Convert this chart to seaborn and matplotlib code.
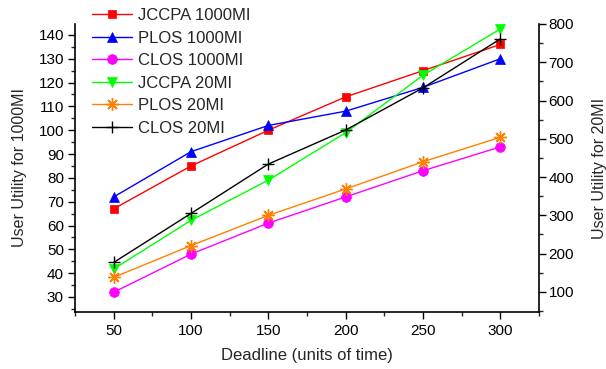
import numpy as np
import pandas as pd
import seaborn as sns
import matplotlib
matplotlib.use("Agg")
import matplotlib.pyplot as plt
from matplotlib.ticker import MultipleLocator
from matplotlib.lines import Line2D

deadline = [50, 100, 150, 200, 250, 300]
jccpa_1000 = [67, 85, 100, 114, 125, 136]
plos_1000 = [72, 91, 102, 108, 118, 130]
clos_1000 = [32, 48, 61, 72, 83, 93]
jccpa_20 = [160, 287, 392, 516, 666, 787]
plos_20 = [138, 221, 300, 369, 440, 504]
clos_20 = [177, 305, 434, 523, 633, 761]

sns.set_style("ticks")
plt.rcParams['font.family'] = ['Liberation Sans', 'DejaVu Sans']

fig = plt.figure(figsize=(6.06, 3.69), dpi=100)
ax1 = fig.add_axes([0.1238, 0.1545, 0.8894 - 0.1238, 0.935 - 0.1545])
ax2 = ax1.twinx()

series_left = [
    ("JCCPA 1000MI", jccpa_1000, "#ff0000", "s", 6, "#ff0000"),
    ("PLOS 1000MI", plos_1000, "#0000ff", "^", 7, "#0000ff"),
    ("CLOS 1000MI", clos_1000, "#ff00ff", "o", 7, "#ff00ff"),
]
series_right = [
    ("JCCPA 20MI", jccpa_20, "#00ff00", "v", 7, "#00ff00"),
    ("PLOS 20MI", plos_20, "#ff8000", (8, 2, 0), 9, "#ff8000"),
    ("CLOS 20MI", clos_20, "#000000", "+", 9, "#000000"),
]

handles = []
for ax, group in ((ax1, series_left), (ax2, series_right)):
    for name, vals, col, mk, ms, mec in group:
        df = pd.DataFrame({"x": deadline, "y": vals})
        mew = 1.0 if mk in ("+", (8, 2, 0)) else 0.5
        sns.lineplot(data=df, x="x", y="y", ax=ax, color=col, marker=mk,
                     markersize=ms, markeredgecolor=mec, markerfacecolor=col,
                     linewidth=1.0, markeredgewidth=mew, legend=False)
        handles.append(Line2D([0], [0], color=col, marker=mk, markersize=ms,
                              markerfacecolor=col, markeredgecolor=mec,
                              markeredgewidth=mew, linewidth=1.0, label=name))

ax1.set_xlim(25, 325)
ax1.set_ylim(23.7, 144.6)
ax2.set_ylim(47.5, 800)

ax1.xaxis.set_minor_locator(MultipleLocator(25))
ax1.yaxis.set_minor_locator(MultipleLocator(5))
ax2.yaxis.set_minor_locator(MultipleLocator(50))
ax1.set_xticks([50, 100, 150, 200, 250, 300])
ax1.set_yticks([30, 40, 50, 60, 70, 80, 90, 100, 110, 120, 130, 140])
ax2.set_yticks([100, 200, 300, 400, 500, 600, 700, 800])

for ax in (ax1, ax2):
    ax.tick_params(which="major", direction="out", length=5, width=1, labelsize=11, colors="black")
    ax.tick_params(which="minor", direction="out", length=3, width=1)
    for s in ax.spines.values():
        s.set_linewidth(1.2)
        s.set_color("black")
ax1.tick_params(axis="y", which="major", pad=3)
ax2.tick_params(axis="y", which="major", pad=2)
ax1.tick_params(axis="x", which="major", pad=4)
ax1.spines["top"].set_visible(False)
ax1.spines["right"].set_visible(False)
ax2.spines["top"].set_visible(False)
ax2.spines["left"].set_visible(False)
ax2.spines["bottom"].set_visible(False)

ax1.set_xlabel("Deadline (units of time)", fontsize=12, labelpad=7)
ax1.set_ylabel("User Utility for 1000MI", fontsize=11.5, labelpad=8)
ax2.set_ylabel("User Utility for 20MI", fontsize=11.5, labelpad=13)

leg = fig.legend(handles=handles, loc="upper left", bbox_to_anchor=(0.135, 1.005),
                 frameon=False, fontsize=12, handlelength=2.4, handletextpad=0.4,
                 labelspacing=0.45, borderaxespad=0.2)

fig.savefig("out.png", dpi=100)
